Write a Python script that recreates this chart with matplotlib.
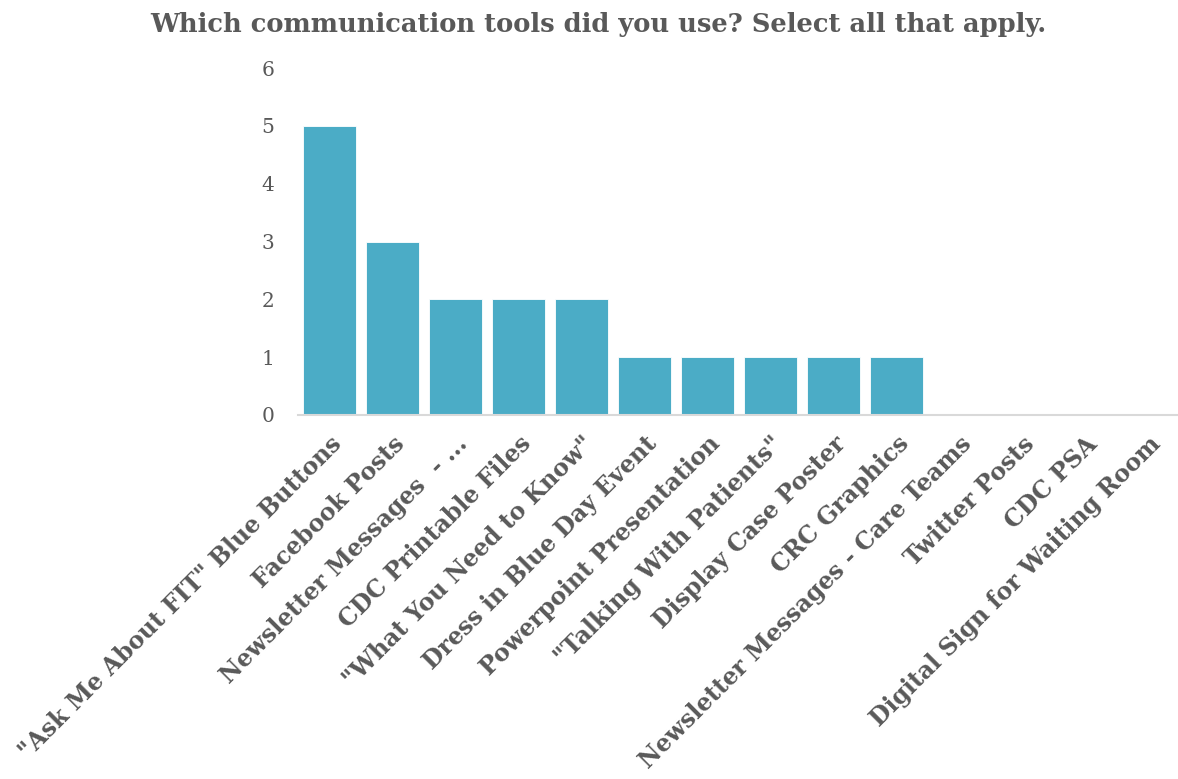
import matplotlib
matplotlib.use("Agg")
import matplotlib.pyplot as plt

# Survey answers: communication tools used
categories = [
    '"Ask Me About FIT" Blue Buttons',
    "Facebook Posts",
    "Newsletter Messages  - ...",
    "CDC Printable Files",
    '"What You Need to Know"',
    "Dress in Blue Day Event",
    "Powerpoint Presentation",
    '"Talking With Patients"',
    "Display Case Poster",
    "CRC Graphics",
    "Newsletter Messages - Care Teams",
    "Twitter Posts",
    "CDC PSA",
    "Digital Sign for Waiting Room",
]
counts = [5, 3, 2, 2, 2, 1, 1, 1, 1, 1, 0, 0, 0, 0]
y_ticks = [0, 1, 2, 3, 4, 5, 6]

BAR = "#4bacc6"
TEXT = "#595959"
SERIF = ["DejaVu Serif"]

fig = plt.figure(figsize=(11.78, 7.79), dpi=100)
ax = fig.add_axes([298 / 1178, 1 - 415 / 779, 882 / 1178, (415 - 68) / 779])

x = list(range(len(categories)))
ax.bar(x, counts, width=0.84, color=BAR, edgecolor="#ffffff", linewidth=0.6, zorder=2)

ax.set_xlim(-0.5, len(categories) - 0.5)
ax.set_ylim(0, 6)
ax.set_yticks(y_ticks)
ax.set_yticklabels([str(v) for v in y_ticks], fontsize=14.5, color=TEXT, family=SERIF)
ax.tick_params(axis="y", length=0, pad=17)
ax.tick_params(axis="x", length=0, pad=12)

ax.set_xticks(x)
ax.set_xticklabels(categories, rotation=45, ha="right", va="top", rotation_mode="anchor",
                   fontsize=17, fontweight="bold", color=TEXT, family=SERIF)

for side in ["top", "right", "left"]:
    ax.spines[side].set_visible(False)
ax.spines["bottom"].set_color("#d9d9d9")
ax.spines["bottom"].set_linewidth(1.5)

fig.text(0.508, 0.968, "Which communication tools did you use? Select all that apply.",
         ha="center", va="center", fontsize=18.5, fontweight="bold", color=TEXT, family=SERIF)

fig.savefig("out.png", dpi=100)
